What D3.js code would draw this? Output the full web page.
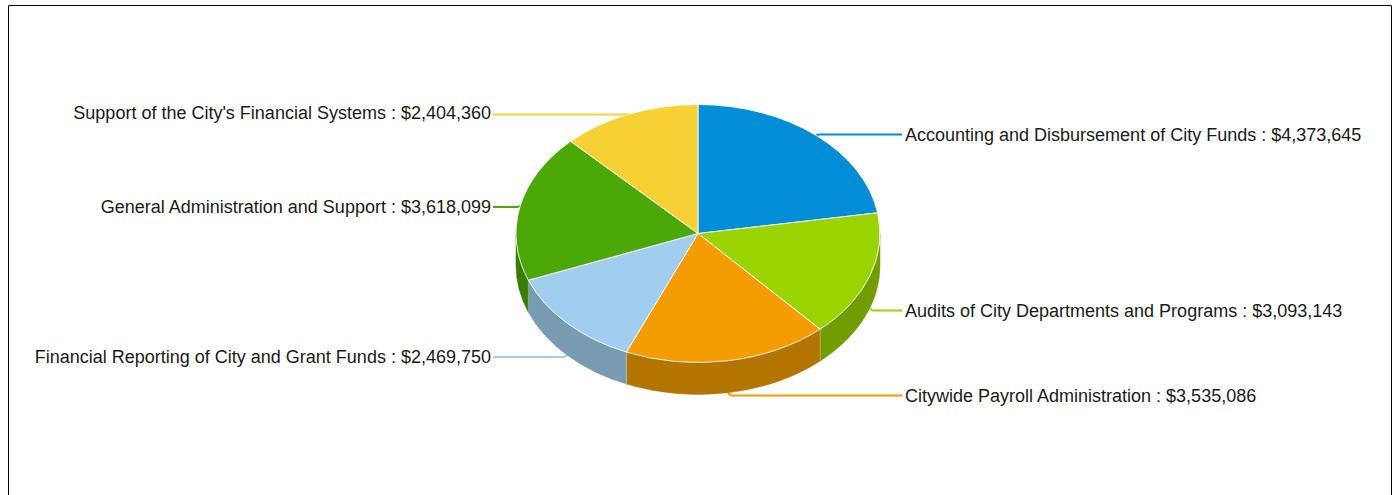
<!DOCTYPE html>
<html><head><meta charset="utf-8">
<script src="https://cdnjs.cloudflare.com/ajax/libs/d3/7.8.5/d3.min.js"></script>
<style>html,body{margin:0;padding:0;background:#fff;overflow:hidden}svg{display:block}</style>
</head><body><svg id="c" width="1395" height="495"></svg>
<script>
const categories = ["Accounting and Disbursement of City Funds","Audits of City Departments and Programs","Citywide Payroll Administration","Financial Reporting of City and Grant Funds","General Administration and Support","Support of the City's Financial Systems"];
const values = [4373645,3093143,3535086,2469750,3618099,2404360];
const topColors = ["#028ED6","#9AD400","#F49C00","#A1CEEE","#4CA807","#F7D133"];
const sideColors = ["#016A9F","#719D00","#B47400","#789BB2","#387C05","#B79A26"];

const W=1395,H=495,cx=698,cy=233.5,rx=182,ry=129,depth=32;
const labelNudge=[-0.5,2.5,2.5,2,1,0.5];
const textDy=[6,6.5,6,6,6,4];
const svg=d3.select("#c");
svg.append("path").attr("d",`M8.5,${H} V5.5 H1391.5 V${H}`).attr("fill","none").attr("stroke","#000").attr("stroke-width",1);

const pie=d3.pie().value(d=>d).sort(null);
const arcs=pie(values);
const arcGen=d3.arc().innerRadius(0).outerRadius(rx);
const px=a=>cx+rx*Math.sin(a), py=a=>cy-ry*Math.cos(a);
const fmt=d3.format("$,");

// connectors, behind the pie
const gLines=svg.append("g");
const gLabels=svg.append("g");
arcs.forEach((d,i)=>{
  const m=(d.startAngle+d.endAngle)/2, right=Math.sin(m)>0, front=Math.cos(m)<0;
  const ax=px(m), ay=py(m)+(front?depth:0);
  const y=Math.round(ay)+labelNudge[i];
  const ex=right?902:493;
  gLines.append("path").attr("d",`M${ax},${ay} L${ax+(right?3:-3)},${y} L${ex},${y}`)
    .attr("fill","none").attr("stroke",topColors[i]).attr("stroke-width",2);
  gLabels.append("text").attr("x",right?905:491).attr("y",y+textDy[i])
    .attr("text-anchor",right?"start":"end")
    .attr("font-family","Liberation Sans, Arial, sans-serif").attr("font-size",18).attr("fill","#1a1a1a")
    .text(`${categories[i]} : ${fmt(values[i])}`);
});

// side walls
const gSide=svg.append("g");
arcs.forEach((d,i)=>{
  const a0=Math.max(d.startAngle,Math.PI/2), a1=Math.min(d.endAngle,Math.PI*1.5);
  if(a1<=a0) return;
  const p=`M${px(a0)},${py(a0)} A${rx},${ry} 0 0 1 ${px(a1)},${py(a1)} L${px(a1)},${py(a1)+depth} A${rx},${ry} 0 0 0 ${px(a0)},${py(a0)+depth} Z`;
  gSide.append("path").attr("d",p).attr("fill",sideColors[i]).attr("stroke",sideColors[i]).attr("stroke-width",0.5);
  [a0,a1].forEach(a=>{ if(a>Math.PI/2+1e-6&&a<Math.PI*1.5-1e-6)
    gSide.append("line").attr("x1",px(a)).attr("x2",px(a)).attr("y1",py(a)).attr("y2",py(a)+depth)
      .attr("stroke","#fff").attr("stroke-opacity",0.25).attr("stroke-width",1);});
});

// top
const gTop=svg.append("g").attr("transform",`translate(${cx},${cy}) scale(1,${ry/rx})`);
gTop.selectAll("path").data(arcs).join("path").attr("d",arcGen)
  .attr("fill",(d,i)=>topColors[i]).attr("stroke","#fff").attr("stroke-opacity",0.85)
  .attr("stroke-width",1).attr("vector-effect","non-scaling-stroke");
</script></body></html>
